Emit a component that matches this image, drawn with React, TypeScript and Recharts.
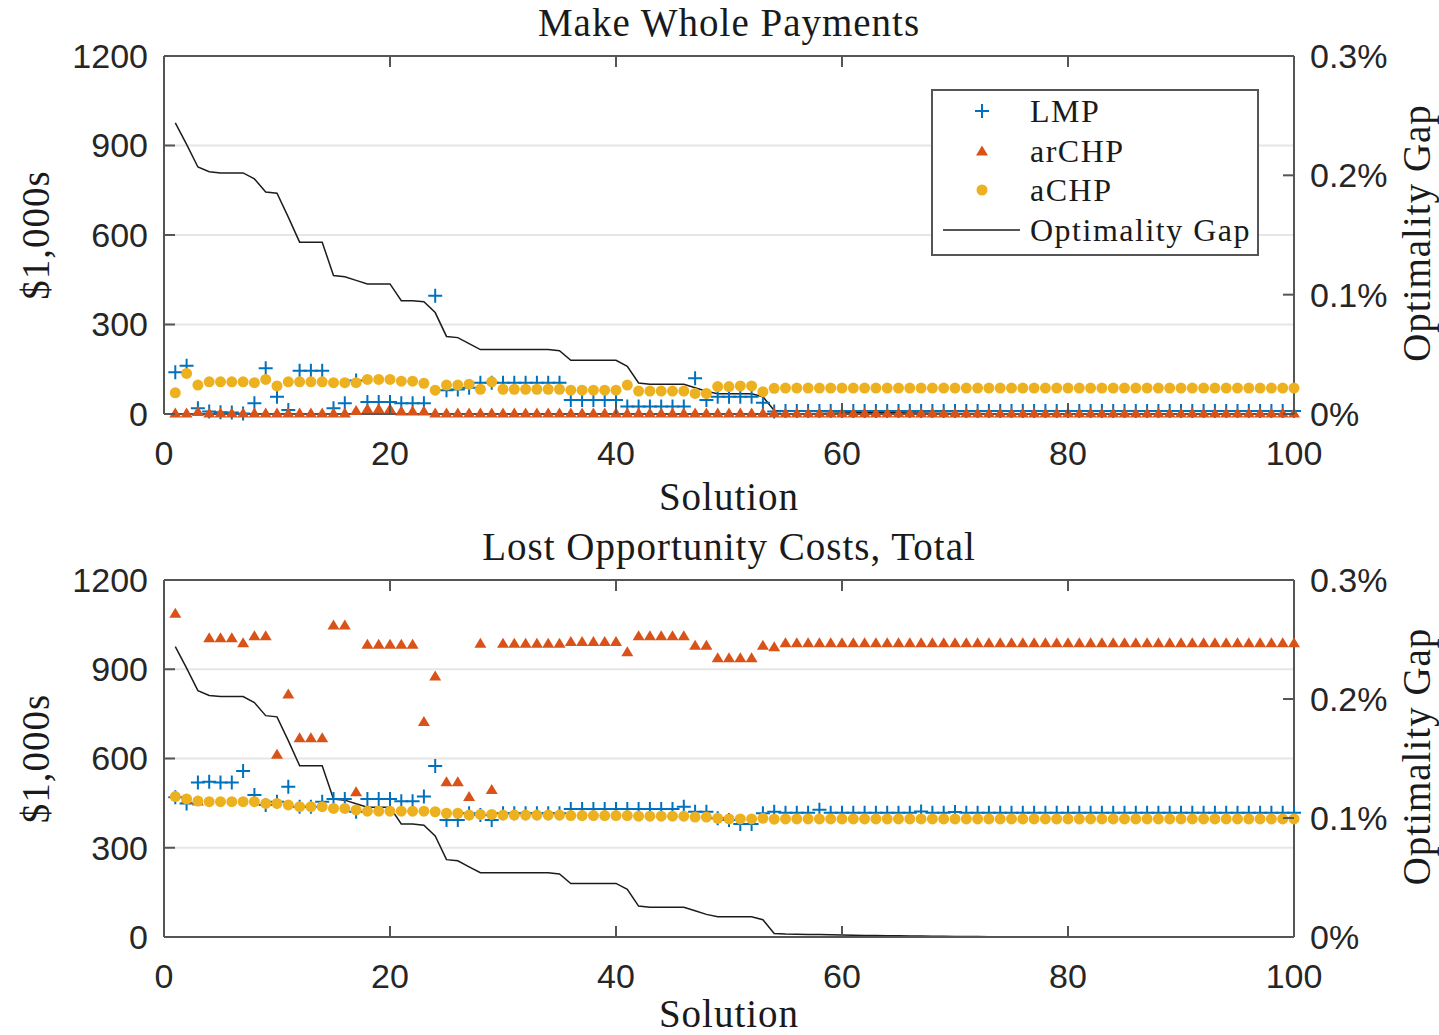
import React from 'react';
import {
    ComposedChart, Scatter, Line, XAxis, YAxis, CartesianGrid, Legend, Label,
} from 'recharts';

// x categories: solution index
const solutions = [
    1, 2, 3, 4, 5, 6, 7, 8, 9, 10,
    11, 12, 13, 14, 15, 16, 17, 18, 19, 20,
    21, 22, 23, 24, 25, 26, 27, 28, 29, 30,
    31, 32, 33, 34, 35, 36, 37, 38, 39, 40,
    41, 42, 43, 44, 45, 46, 47, 48, 49, 50,
    51, 52, 53, 54, 55, 56, 57, 58, 59, 60,
    61, 62, 63, 64, 65, 66, 67, 68, 69, 70,
    71, 72, 73, 74, 75, 76, 77, 78, 79, 80,
    81, 82, 83, 84, 85, 86, 87, 88, 89, 90,
    91, 92, 93, 94, 95, 96, 97, 98, 99, 100,
];

// optimality gap, % (same in both panels)
const gapPct = [
    0.244, 0.226, 0.207, 0.203, 0.202, 0.202, 0.202, 0.197, 0.186, 0.185,
    0.165, 0.144, 0.144, 0.144, 0.116, 0.115, 0.112, 0.109, 0.109, 0.109,
    0.095, 0.095, 0.094, 0.085, 0.065, 0.064, 0.059, 0.054, 0.054, 0.054,
    0.054, 0.054, 0.054, 0.054, 0.053, 0.045, 0.045, 0.045, 0.045, 0.045,
    0.040, 0.026, 0.025, 0.025, 0.025, 0.025, 0.022, 0.019, 0.017, 0.017,
    0.017, 0.017, 0.0145, 0.003, 0.0025, 0.0024, 0.0022, 0.002, 0.0018, 0.0016,
    0.0015, 0.0013, 0.0012, 0.0011, 0.001, 0.0009, 0.0008, 0.0007, 0.0006, 0.0005,
    0.0004, 0.0004, 0.0003, 0.0003, 0.0002, 0.0002, 0.0001, 0.0001, 0.0001, 0,
    0, 0, 0, 0, 0, 0, 0, 0, 0, 0,
    0, 0, 0, 0, 0, 0, 0, 0, 0, 0,
];

// Make Whole Payments, $1,000s
const mwpLmp = [
    140, 162, 19, 8, 6, 5, 2, 36, 153, 58,
    13, 145, 145, 145, 19, 36, 112, 40, 40, 40,
    36, 36, 36, 396, 80, 82, 88, 105, 105, 105,
    105, 105, 105, 105, 105, 47, 47, 47, 47, 47,
    25, 25, 25, 25, 25, 25, 120, 47, 58, 58,
    58, 58, 38, 8, 10, 10, 10, 10, 10, 10,
    10, 10, 10, 10, 10, 10, 10, 10, 10, 10,
    10, 10, 10, 10, 10, 10, 10, 10, 10, 10,
    10, 10, 10, 10, 10, 10, 10, 10, 10, 10,
    10, 10, 10, 10, 10, 10, 10, 10, 10, 10,
];
const mwpArchp = [
    3, 3, 8, 3, 3, 3, 3, 3, 3, 3,
    3, 3, 3, 3, 3, 3, 12, 18, 18, 18,
    10, 10, 10, 3, 3, 3, 3, 3, 3, 3,
    3, 3, 3, 3, 3, 3, 3, 3, 3, 3,
    3, 3, 3, 3, 3, 3, 3, 3, 3, 3,
    3, 3, 3, 3, 3, 3, 3, 3, 3, 3,
    3, 3, 3, 3, 3, 3, 3, 3, 3, 3,
    3, 3, 3, 3, 3, 3, 3, 3, 3, 3,
    3, 3, 3, 3, 3, 3, 3, 3, 3, 3,
    3, 3, 3, 3, 3, 3, 3, 3, 3, 3,
];
const mwpAchp = [
    71, 136, 97, 108, 108, 108, 108, 105, 116, 94,
    108, 108, 108, 108, 105, 105, 105, 116, 116, 116,
    110, 110, 103, 80, 97, 97, 100, 83, 108, 83,
    83, 83, 83, 83, 83, 80, 80, 80, 80, 80,
    97, 77, 77, 77, 77, 77, 69, 69, 92, 92,
    94, 94, 75, 86, 87, 87, 87, 87, 87, 87,
    87, 87, 87, 87, 87, 87, 87, 87, 87, 87,
    87, 87, 87, 87, 87, 87, 87, 87, 87, 87,
    87, 87, 87, 87, 87, 87, 87, 87, 87, 87,
    87, 87, 87, 87, 87, 87, 87, 87, 87, 87,
];

// Lost Opportunity Costs, Total, $1,000s
const locLmp = [
    470, 449, 519, 522, 519, 519, 558, 477, 444, 455,
    505, 438, 438, 455, 464, 464, 421, 464, 464, 464,
    456, 456, 472, 575, 393, 393, 416, 410, 393, 416,
    416, 416, 416, 416, 416, 430, 430, 430, 430, 430,
    430, 430, 430, 430, 430, 438, 421, 421, 399, 393,
    380, 380, 416, 421, 418, 418, 418, 428, 418, 418,
    418, 418, 418, 418, 418, 418, 422, 418, 418, 420,
    418, 418, 418, 418, 418, 418, 418, 418, 418, 418,
    418, 418, 418, 418, 418, 418, 418, 418, 418, 418,
    418, 418, 418, 418, 418, 418, 418, 418, 418, 418,
];
const locArchp = [
    1088, 464, 457, 1006, 1006, 1006, 989, 1013, 1013, 614,
    817, 670, 670, 670, 1049, 1049, 488, 984, 984, 984,
    984, 984, 724, 877, 522, 522, 472, 987, 496, 987,
    987, 987, 987, 987, 987, 993, 993, 993, 993, 993,
    959, 1013, 1013, 1013, 1013, 1013, 981, 981, 939, 939,
    939, 939, 981, 976, 989, 989, 989, 989, 989, 989,
    989, 989, 989, 989, 989, 989, 989, 989, 989, 989,
    989, 989, 989, 989, 989, 989, 989, 989, 989, 989,
    989, 989, 989, 989, 989, 989, 989, 989, 989, 989,
    989, 989, 989, 989, 989, 989, 989, 989, 989, 989,
];
const locAchp = [
    472, 464, 457, 455, 455, 455, 455, 455, 449, 449,
    444, 438, 438, 438, 432, 432, 427, 423, 423, 423,
    423, 423, 423, 421, 416, 416, 410, 412, 412, 410,
    410, 410, 410, 410, 410, 408, 408, 408, 408, 408,
    408, 406, 406, 406, 406, 406, 403, 403, 399, 397,
    397, 397, 399, 396, 397, 397, 397, 397, 397, 397,
    397, 397, 397, 397, 397, 397, 397, 397, 397, 397,
    397, 397, 397, 397, 397, 397, 397, 397, 397, 397,
    397, 397, 397, 397, 397, 397, 397, 397, 397, 397,
    397, 397, 397, 397, 397, 397, 397, 397, 397, 397,
];

const xTicks = [0, 20, 40, 60, 80, 100];
const leftTicks = [0, 300, 600, 900, 1200];
const rightTicks = [0, 0.1, 0.2, 0.3];

const C = {
    lmp: '#0072BD',
    archp: '#D95319',
    achp: '#EDB120',
    gap: '#1c1c1c',
    axis: '#555555',
    grid: '#e6e6e6',
    text: '#262626',
};
const SERIF = '"Liberation Serif", "Times New Roman", serif';
const SANS = '"Liberation Sans", Arial, sans-serif';
const TICK_LEN = 11;

// --- markers ---
const PlusShape = (p: any) => {
    const { cx, cy } = p;
    if (cx == null || cy == null) return null;
    return (
        <path d={`M${cx - 7},${cy}H${cx + 7}M${cx},${cy - 7}V${cy + 7}`}
            stroke={C.lmp} strokeWidth={2} fill="none" />
    );
};
const TriShape = (p: any) => {
    const { cx, cy } = p;
    if (cx == null || cy == null) return null;
    return <path d={`M${cx - 6},${cy + 4.5}L${cx + 6},${cy + 4.5}L${cx},${cy - 5.5}Z`} fill={C.archp} />;
};
const DotShape = (p: any) => {
    const { cx, cy } = p;
    if (cx == null || cy == null) return null;
    return <circle cx={cx} cy={cy} r={5.5} fill={C.achp} />;
};

// --- ticks (inward tick marks, MATLAB style) ---
const BottomTick = (p: any) => {
    const { x, y, payload } = p;
    return (
        <g>
            <line x1={x} x2={x} y1={y} y2={y - TICK_LEN} stroke={C.axis} strokeWidth={2} />
            <text x={x} y={y + 39} dy="0.35em" textAnchor="middle" fontFamily={SANS} fontSize={34} fill={C.text}>
                {payload.value}
            </text>
        </g>
    );
};
const TopTick = (p: any) => {
    const { x, y } = p;
    return <line x1={x} x2={x} y1={y} y2={y + TICK_LEN} stroke={C.axis} strokeWidth={2} />;
};
const LeftTick = (p: any) => {
    const { x, y, payload } = p;
    return (
        <g>
            <line x1={x} x2={x + TICK_LEN} y1={y} y2={y} stroke={C.axis} strokeWidth={2} />
            <text x={x - 16} y={y} dy="0.35em" textAnchor="end" fontFamily={SANS} fontSize={34} fill={C.text}>
                {payload.value}
            </text>
        </g>
    );
};
const RightTick = (p: any) => {
    const { x, y, payload } = p;
    return (
        <g>
            <line x1={x} x2={x - TICK_LEN} y1={y} y2={y} stroke={C.axis} strokeWidth={2} />
            <text x={x + 16} y={y} dy="0.35em" textAnchor="start" fontFamily={SANS} fontSize={34} fill={C.text}>
                {`${payload.value}%`}
            </text>
        </g>
    );
};

const labelStyle = { fontFamily: SERIF, fontSize: 39, letterSpacing: 1, fill: '#1a1a1a' };

const LegendBox = () => {
    const rows = [
        { name: 'LMP', kind: 'plus' },
        { name: 'arCHP', kind: 'tri' },
        { name: 'aCHP', kind: 'dot' },
        { name: 'Optimality Gap', kind: 'line' },
    ];
    return (
        <div style={{
            position: 'relative', width: 328, height: 167, boxSizing: 'border-box',
            border: '2px solid #555', background: '#fff',
        }}>
            {rows.map((r, i) => (
                <div key={r.name} style={{
                    position: 'absolute', left: 0, top: 39.6 * i, height: 40, width: '100%',
                    display: 'flex', alignItems: 'center',
                }}>
                    <svg width={97} height={40} style={{ flex: 'none' }}>
                        {r.kind === 'plus' && <PlusShape cx={49} cy={20} />}
                        {r.kind === 'tri' && <TriShape cx={49} cy={20} />}
                        {r.kind === 'dot' && <DotShape cx={49} cy={20} />}
                        {r.kind === 'line' && <line x1={10} x2={87} y1={20} y2={20} stroke={C.gap} strokeWidth={1.5} />}
                    </svg>
                    <span style={{
                        fontFamily: SERIF, fontSize: 32, letterSpacing: 1.5, color: '#1a1a1a',
                        lineHeight: '40px', whiteSpace: 'nowrap',
                    }}>{r.name}</span>
                </div>
            ))}
        </div>
    );
};

interface PanelProps {
    title: string;
    lmp: number[];
    archp: number[];
    achp: number[];
    height: number;
    top: number;
    bottomAxis: number;
    xLabelOffset: number;
    showLegend?: boolean;
}

function Panel({ title, lmp, archp, achp, height, top, bottomAxis, xLabelOffset, showLegend }: PanelProps) {
    const data = solutions.map((s, i) => ({
        solution: s, lmp: lmp[i], archp: archp[i], achp: achp[i], gap: gapPct[i],
    }));
    return (
        <ComposedChart width={1439} height={height} data={data}
            margin={{ top: top - 1, right: 0, bottom: 0, left: 0 }}>
            <CartesianGrid xAxisId="b" yAxisId="left" vertical={false} stroke={C.grid} strokeWidth={2} />
            <XAxis xAxisId="b" dataKey="solution" type="number" domain={[0, 100]} ticks={xTicks}
                interval={0} height={bottomAxis} tickSize={0} tickMargin={0} tickLine={false}
                tick={(p: any) => <BottomTick {...p} />}
                axisLine={{ stroke: C.axis, strokeWidth: 2 }}>
                <Label content={(p: any) => {
                    const vb = p.viewBox;
                    return <text x={vb.x + vb.width / 2} y={vb.y + xLabelOffset} dy="0.35em" textAnchor="middle" {...labelStyle}>Solution</text>;
                }} />
            </XAxis>
            <XAxis xAxisId="t" orientation="top" dataKey="solution" type="number" domain={[0, 100]}
                ticks={xTicks} interval={0} height={1} tickSize={0} tickMargin={0} tickLine={false}
                tick={(p: any) => <TopTick {...p} />}
                axisLine={{ stroke: C.axis, strokeWidth: 2 }}>
                <Label content={(p: any) => {
                    const vb = p.viewBox;
                    return <text x={vb.x + vb.width / 2} y={vb.y + vb.height - 34} dy="0.35em" textAnchor="middle" {...labelStyle}>{title}</text>;
                }} />
            </XAxis>
            <YAxis yAxisId="left" width={164} domain={[0, 1200]} ticks={leftTicks} interval={0}
                tickSize={0} tickMargin={0} tickLine={false}
                tick={(p: any) => <LeftTick {...p} />}
                axisLine={{ stroke: C.axis, strokeWidth: 2 }}>
                <Label content={(p: any) => {
                    const vb = p.viewBox;
                    const cx = 35;
                    const cy = vb.y + vb.height / 2;
                    return <text x={cx} y={cy} dy="0.35em" textAnchor="middle" transform={`rotate(-90 ${cx} ${cy})`} {...labelStyle}>$1,000s</text>;
                }} />
            </YAxis>
            <YAxis yAxisId="right" orientation="right" width={145} domain={[0, 0.3]} ticks={rightTicks}
                interval={0} tickSize={0} tickMargin={0} tickLine={false}
                tick={(p: any) => <RightTick {...p} />}
                axisLine={{ stroke: C.axis, strokeWidth: 2 }}>
                <Label content={(p: any) => {
                    const vb = p.viewBox;
                    const cx = 1416;
                    const cy = vb.y + vb.height / 2 - 2;
                    return <text x={cx} y={cy} dy="0.35em" textAnchor="middle" transform={`rotate(-90 ${cx} ${cy})`} {...labelStyle}>Optimality Gap</text>;
                }} />
            </YAxis>
            <Scatter name="LMP" xAxisId="b" yAxisId="left" dataKey="lmp" shape={PlusShape} isAnimationActive={false} />
            <Scatter name="arCHP" xAxisId="b" yAxisId="left" dataKey="archp" shape={TriShape} isAnimationActive={false} />
            <Scatter name="aCHP" xAxisId="b" yAxisId="left" dataKey="achp" shape={DotShape} isAnimationActive={false} />
            <Line name="Optimality Gap" xAxisId="b" yAxisId="right" dataKey="gap" type="linear"
                stroke={C.gap} strokeWidth={1.5} dot={false} activeDot={false} isAnimationActive={false} />
            {showLegend && (
                <Legend layout="horizontal" verticalAlign="middle" align="center"
                    content={() => <LegendBox />}
                    wrapperStyle={{ position: 'absolute', left: 931, top: 89, width: 328, height: 167 }} />
            )}
        </ComposedChart>
    );
}

export default function App() {
    return (
        <div style={{ position: 'absolute', left: 0, top: 0, width: 1439, height: 1035, background: '#fff' }}>
            <div style={{ position: 'absolute', left: 0, top: 0 }}>
                <Panel title="Make Whole Payments" lmp={mwpLmp} archp={mwpArchp} achp={mwpAchp}
                    height={518} top={56} bottomAxis={104} xLabelOffset={82} showLegend />
            </div>
            <div style={{ position: 'absolute', left: 0, top: 518 }}>
                <Panel title="Lost Opportunity Costs, Total" lmp={locLmp} archp={locArchp} achp={locAchp}
                    height={517} top={62} bottomAxis={98} xLabelOffset={76} />
            </div>
        </div>
    );
}
